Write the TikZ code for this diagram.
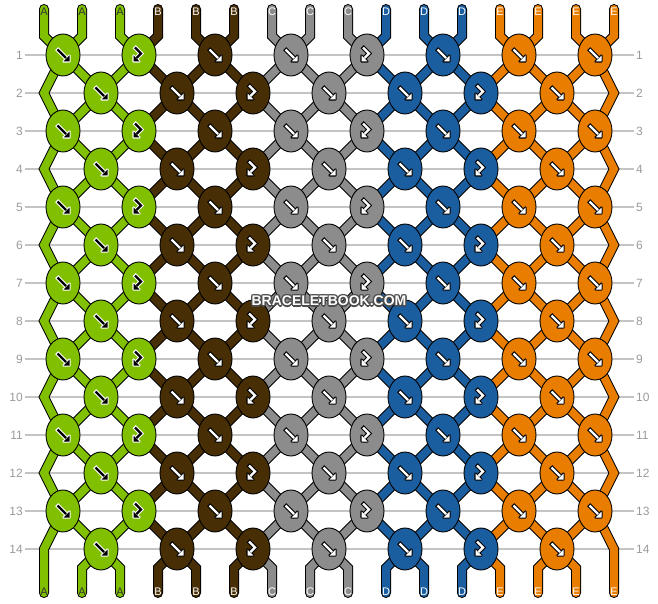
\documentclass[tikz,border=0pt]{standalone}
\usepackage{fontspec}
\setmainfont{Liberation Sans}
\usetikzlibrary{shapes.geometric}

\definecolor{colA}{HTML}{80C000}
\definecolor{colB}{HTML}{472E05}
\definecolor{colC}{HTML}{8C8C8C}
\definecolor{colD}{HTML}{1B5E9F}
\definecolor{colE}{HTML}{E87D00}
\definecolor{gridgray}{HTML}{C4C4C4}
\definecolor{labgray}{HTML}{9A9A9A}

\pgfdeclarelayer{grid}
\pgfdeclarelayer{strands}
\pgfsetlayers{grid,strands,main}

% white text with a dark rim
\newcommand{\rimtext}[1]{%
  \leavevmode
  \rlap{\kern-1pt\raisebox{1pt}{\color{black!70}#1}}%
  \rlap{\kern1pt\raisebox{1pt}{\color{black!70}#1}}%
  \rlap{\kern-1pt\raisebox{-1pt}{\color{black!70}#1}}%
  \rlap{\kern1pt\raisebox{-1pt}{\color{black!70}#1}}%
  \rlap{\kern-1.3pt{\color{black!70}#1}}%
  \rlap{\kern1.3pt{\color{black!70}#1}}%
  \rlap{\raisebox{1.3pt}{\color{black!70}#1}}%
  \rlap{\raisebox{-1.3pt}{\color{black!70}#1}}%
  {\color{white}#1}}

\tikzset{
  knot/.style={ellipse, draw=black, line width=0.9pt, fill=#1, minimum width=34pt, minimum height=42pt, inner sep=0pt},
  strand/.style={draw=black, double=#1, double distance=8pt, line width=1pt, line join=miter, line cap=round},
  rowline/.style={draw=gridgray, line width=1.2pt},
  rowlab/.style={text=labgray, font=\fontsize{12}{14}\selectfont, inner sep=2pt},
  strlab/.style={font=\fontsize{11}{13}\selectfont, inner sep=0pt},
  wmark/.style={font=\fontsize{14}{16}\selectfont\bfseries, inner sep=0pt},
  % 0 = forward knot, 1 = forward-backward knot
  pics/knotmark/.style n args={3}{code={
    \ifnum#1=0
      \draw[#3, line width=4.4pt] (-6.3,-6.3) -- (3,3);
      \filldraw[#3, line width=2.2pt, line join=round] (6.5,6.5) -- (0.5,6.5) -- (6.5,0.5) -- cycle;
      \draw[#2, line width=2.2pt] (-5.5,-5.5) -- (3,3);
      \fill[#2] (6.5,6.5) -- (0.5,6.5) -- (6.5,0.5) -- cycle;
    \else
      \draw[#3, line width=4.4pt, line join=miter] (-4.8,-8.3) -- (2,-1.5) -- (-2.5,3);
      \filldraw[#3, line width=2.2pt, line join=round] (-5.5,6.5) -- (0.5,6.5) -- (-5.5,0.5) -- cycle;
      \draw[#2, line width=2.2pt, line join=miter] (-4,-7.5) -- (2,-1.5) -- (-2.5,3);
      \fill[#2] (-5.5,6.5) -- (0.5,6.5) -- (-5.5,0.5) -- cycle;
    \fi
  }}
}

\begin{document}
\begin{tikzpicture}[x=1pt, y=-1pt]
  \useasboundingbox (0,0) rectangle (658,604);

  % knots, odd rows
  \foreach \r in {1,3,...,13}
    \foreach \c/\kc/\kt/\mkf/\mkb in {1/colA/0/black/white, 2/colA/1/black/white, 3/colB/0/white/black,
        4/colC/0/white/black, 5/colC/1/white/black, 6/colD/0/white/black, 7/colE/0/white/black, 8/colE/0/white/black} {
      \node[knot=\kc] (k\r-\c) at ({63+76*(\c-1)},{55+38*(\r-1)}) {};
      \pic at (k\r-\c) {knotmark={\kt}{\mkf}{\mkb}};
    }
  % knots, even rows (plus the edge bends)
  \foreach \r in {2,4,...,14} {
    \coordinate (k\r-0) at (44,{55+38*(\r-1)});
    \coordinate (k\r-8) at (614,{55+38*(\r-1)});
    \foreach \c/\kc/\kt/\mkf/\mkb in {1/colA/0/black/white, 2/colB/0/white/black, 3/colB/1/white/black,
        4/colC/0/white/black, 5/colD/0/white/black, 6/colD/1/white/black, 7/colE/0/white/black} {
      \node[knot=\kc] (k\r-\c) at ({101+76*(\c-1)},{55+38*(\r-1)}) {};
      \pic at (k\r-\c) {knotmark={\kt}{\mkf}{\mkb}};
    }
  }

  % strings
  \foreach \i/\sc/\lab/\lc in {0/colA/A/black!80, 1/colA/A/black!80, 2/colA/A/black!80,
      3/colB/B/white, 4/colB/B/white, 5/colB/B/white, 6/colC/C/white, 7/colC/C/white, 8/colC/C/white,
      9/colD/D/white, 10/colD/D/white, 11/colD/D/white, 12/colE/E/white, 13/colE/E/white,
      14/colE/E/white, 15/colE/E/white} {
    \coordinate (t\i) at ({44+38*\i},9);
    \coordinate (v\i) at ({44+38*\i},36);
    \coordinate (u\i) at ({44+38*\i},568);
    \coordinate (b\i) at ({44+38*\i},593);
    \pgfmathtruncatemacro\co{\i/2+1}
    \pgfmathtruncatemacro\ce{(\i+1)/2}
    \begin{pgfonlayer}{strands}
      \draw[strand=\sc] (t\i) -- (v\i)
        \foreach \r [evaluate=\r as \rr using int(\r+1)] in {1,3,...,13} { -- (k\r-\co.center) -- (k\rr-\ce.center) }
        -- (u\i) -- (b\i);
    \end{pgfonlayer}
    \node[strlab, text=\lc] (top\i) at ({44+38*\i},12) {\lab};
    \node[strlab, text=\lc] (bot\i) at ({44+38*\i},592) {\lab};
  }

  % row numbers and lines
  \foreach \r in {1,...,14} {
    \node[rowlab, anchor=east] (ll\r) at (25,{55+38*(\r-1)}) {\r};
    \node[rowlab, anchor=west] (rl\r) at (634,{55+38*(\r-1)}) {\r};
    \begin{pgfonlayer}{grid}
      \draw[rowline] (ll\r.east) -- (rl\r.west);
    \end{pgfonlayer}
  }

  % watermark
  \node[wmark] (wm) at (329,301) {\rimtext{BRACELETBOOK.COM}};
\end{tikzpicture}
\end{document}
